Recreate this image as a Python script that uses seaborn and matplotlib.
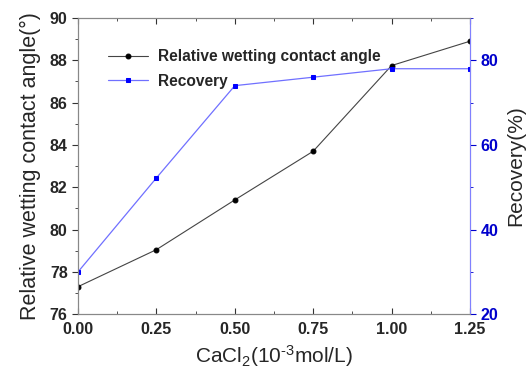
import matplotlib
matplotlib.use("Agg")
import matplotlib.pyplot as plt
import seaborn as sns
import pandas as pd
from matplotlib.ticker import MultipleLocator

sns.set_style("ticks")
plt.rcParams['font.family'] = ['Liberation Sans', 'DejaVu Sans']
plt.rcParams['mathtext.default'] = 'regular'
plt.rcParams['axes.unicode_minus'] = False

conc = [0.00, 0.25, 0.50, 0.75, 1.00, 1.25]
contact_angle = [77.3, 79.05, 81.4, 83.7, 87.75, 88.9]
recovery = [30.0, 52.2, 74.0, 76.0, 78.0, 78.0]
x_ticks = [0.00, 0.25, 0.50, 0.75, 1.00, 1.25]
x_tick_labels = ["0.00", "0.25", "0.50", "0.75", "1.00", "1.25"]

df = pd.DataFrame({"conc": conc, "angle": contact_angle, "recovery": recovery})

fig = plt.figure(figsize=(5.31, 3.74), dpi=100)
ax = fig.add_axes([0.147, 0.160, 0.738, 0.792])
ax2 = ax.twinx()

sns.lineplot(data=df, x="conc", y="angle", ax=ax, color="#444444", lw=0.8,
             marker="o", markersize=3.5, markerfacecolor="black",
             markeredgecolor="black", label="Relative wetting contact angle",
             legend=False)
sns.lineplot(data=df, x="conc", y="recovery", ax=ax2, color="#7070ff", lw=0.9,
             marker="s", markersize=3.5, markerfacecolor="#0000ff",
             markeredgecolor="#0000ff", label="Recovery", legend=False)

ax.set_xticks(x_ticks)
ax.set_xticklabels(x_tick_labels)
ax.xaxis.set_minor_locator(MultipleLocator(0.125))
ax.yaxis.set_major_locator(MultipleLocator(2))
ax.yaxis.set_minor_locator(MultipleLocator(1))
ax2.set_yticks([20, 40, 60, 80])
ax2.yaxis.set_minor_locator(MultipleLocator(10))

ax.set_xlim(0, 1.25)
ax.set_ylim(76, 90)
ax2.set_ylim(20, 90)

for a in (ax, ax2):
    for s in a.spines.values():
        s.set_linewidth(0.8)
        s.set_color("#888888")
ax2.spines["right"].set_color("#8080ff")
ax2.spines["top"].set_visible(True)

ax.tick_params(axis="x", which="both", direction="in", top=True, labelsize=11.5,
               color="#333333", pad=6)
ax.tick_params(axis="x", which="major", length=4)
ax.tick_params(axis="x", which="minor", length=2)
ax.tick_params(axis="y", which="major", direction="out", length=4, labelsize=11.5,
               color="#333333")
ax.tick_params(axis="y", which="minor", direction="out", length=2, color="#333333")
ax2.tick_params(axis="y", which="major", direction="out", length=4, labelsize=11.5,
                colors="#0000cc")
ax2.tick_params(axis="y", which="minor", direction="out", length=2, color="#0000cc")

for lab in ax.get_xticklabels() + ax.get_yticklabels() + ax2.get_yticklabels():
    lab.set_fontweight("bold")

ax.set_xlabel("CaCl$_{2}$(10$^{\u20103}$mol/L)", fontsize=15, labelpad=4)
ax.set_ylabel("Relative wetting contact angle(°)", fontsize=15.5, labelpad=6)
ax2.set_ylabel("Recovery(%)", fontsize=15, labelpad=6)

h1, l1 = ax.get_legend_handles_labels()
h2, l2 = ax2.get_legend_handles_labels()
leg = ax.legend(h1 + h2, l1 + l2, loc="upper left", bbox_to_anchor=(0.06, 0.915),
                frameon=False, fontsize=11.2, handlelength=2.6, labelspacing=0.6,
                handletextpad=0.6, borderaxespad=0)
for t in leg.get_texts():
    t.set_fontweight("bold")

fig.savefig("out.png", dpi=100)
